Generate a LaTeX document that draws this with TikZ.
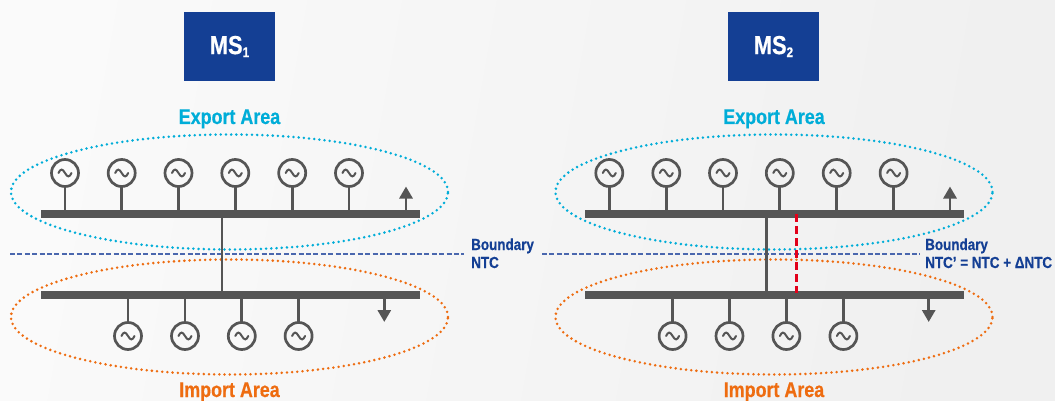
\documentclass[tikz,border=0pt]{standalone}
\usepackage{fontspec}
\setmainfont{Liberation Sans}
\newfontfamily\condbold[FakeStretch=0.84,FakeBold=0.5]{Liberation Sans Bold}
\usetikzlibrary{shapes.geometric,arrows.meta}
\definecolor{msblue}{HTML}{143F94}
\definecolor{cyanA}{HTML}{00ADD8}
\definecolor{orangeA}{HTML}{EE6C10}
\definecolor{busgrey}{HTML}{555555}
\definecolor{redA}{HTML}{E2001A}
\definecolor{bndblue}{HTML}{4A67AE}
\tikzset{
  x=1pt,y=-1pt,
  msbox/.style={fill=msblue,text=white,minimum width=91pt,minimum height=69pt,inner sep=0pt,font=\condbold\fontsize{26}{28}\selectfont},
  areatitle/.style={inner sep=0pt,anchor=base,font=\condbold\fontsize{21.3}{24}\selectfont},
  bndlabel/.style={inner sep=0pt,anchor=base west,text=msblue,font=\condbold\fontsize{16}{18}\selectfont},
  dotell/.style={ellipse,draw=#1,line width=2.8pt,line cap=round,dash pattern=on 0pt off 5.2pt,minimum width=437pt,minimum height=115pt,inner sep=0pt,outer sep=0pt},
  busbar/.style={fill=busgrey,minimum width=379pt,minimum height=8pt,inner sep=0pt,outer sep=0pt},
  wire/.style={draw=busgrey,line width=2.9pt},
  gen/.style={circle,draw=busgrey,line width=2.7pt,fill=none,minimum size=27pt,inner sep=0pt,outer sep=0pt,
    path picture={\draw[busgrey,line width=2pt,line cap=round]
      ([xshift=-6.5pt]path picture bounding box.center) .. controls +(2pt,4.5pt) and +(-2.5pt,4.5pt) ..
      (path picture bounding box.center) .. controls +(2.5pt,-4.5pt) and +(-2pt,-4.5pt) ..
      ([xshift=6.5pt]path picture bounding box.center);}},
  flow/.style={draw=busgrey,line width=2.9pt,-{Triangle[length=12pt,width=13pt]}},
  bound/.style={draw=bndblue,line width=1.7pt,dash pattern=on 5pt off 2.4pt},
  extra/.style={draw=redA,line width=3pt,dash pattern=on 8pt off 4pt},
}
\begin{document}
\begin{tikzpicture}
\useasboundingbox (0,0) rectangle (1055,401);
\shade[left color=white!98!black,right color=white!94!black,shading angle=80] (0,0) rectangle (1055,401);

% ---------- MS1 ----------
\node[msbox] (ms1) at (229.5,46.5) {MS\raisebox{-3pt}{\fontsize{14}{14}\selectfont 1}};
\node[areatitle,text=cyanA] (exp1) at (229.5,124) {Export Area};
\node[areatitle,text=orangeA] (imp1) at (229.5,397) {Import Area};
\node[dotell=cyanA] (eu1) at (229.5,192) {};
\node[dotell=orangeA] (el1) at (229.5,317) {};
\coordinate (bl1) at (10,253.7);
\coordinate (br1) at (464,253.7);
\draw[bound] (bl1) -- (br1);
\node[busbar] (tb1) at (230.5,214) {};
\node[busbar] (lb1) at (230.5,295) {};
\draw[wire] (222,214) coordinate (ta1) -- (222,295) coordinate (la1);
\foreach \n/\xx in {1/65,2/121.7,3/178.5,4/235.3,5/292.2,6/349}{
  \node[gen] (ug1\n) at (\xx,173) {};
  \draw[wire] (ug1\n) -- (ug1\n |- tb1.north);
}
\foreach \n/\xx in {1/128,2/185,3/241.8,4/298.6}{
  \node[gen] (lg1\n) at (\xx,336) {};
  \draw[wire] (lg1\n) -- (lg1\n |- lb1.south);
}
\coordinate (upa1) at (406,186.5);
\coordinate (doa1) at (384.3,322);
\draw[flow] (upa1 |- tb1.north) -- (upa1);
\draw[flow] (doa1 |- lb1.south) -- (doa1);
\node[bndlabel] (bt1) at (471,250) {Boundary};
\node[bndlabel] (nt1) at (471,268) {NTC};

% ---------- MS2 ----------
\node[msbox] (ms2) at (773.5,46.5) {MS\raisebox{-3pt}{\fontsize{14}{14}\selectfont 2}};
\node[areatitle,text=cyanA] (exp2) at (774,124) {Export Area};
\node[areatitle,text=orangeA] (imp2) at (774,397) {Import Area};
\node[dotell=cyanA] (eu2) at (774,192) {};
\node[dotell=orangeA] (el2) at (774,317) {};
\coordinate (bl2) at (542,253.7);
\coordinate (br2) at (920,253.7);
\draw[bound] (bl2) -- (br2);
\node[busbar] (tb2) at (774.5,214) {};
\node[busbar] (lb2) at (774.5,295) {};
\draw[wire] (766.4,214) coordinate (ta2) -- (766.4,295) coordinate (la2);
\foreach \n/\xx in {1/609.3,2/666.3,3/723,4/779.8,5/836.7,6/893.6}{
  \node[gen] (ug2\n) at (\xx,173) {};
  \draw[wire] (ug2\n) -- (ug2\n |- tb2.north);
}
\foreach \n/\xx in {1/672.6,2/729.5,3/786.4,4/843.4}{
  \node[gen] (lg2\n) at (\xx,336) {};
  \draw[wire] (lg2\n) -- (lg2\n |- lb2.south);
}
\coordinate (upa2) at (950,186.5);
\coordinate (doa2) at (928.7,322);
\draw[flow] (upa2 |- tb2.north) -- (upa2);
\draw[flow] (doa2 |- lb2.south) -- (doa2);
\coordinate (rt) at (796,214);
\coordinate (rb) at (796,293);
\draw[extra] (rt) -- (rb);
\node[bndlabel] (bt2) at (925,250) {Boundary};
\node[bndlabel] (nt2) at (925,268) {NTC’ = NTC + ΔNTC};
\end{tikzpicture}
\end{document}
